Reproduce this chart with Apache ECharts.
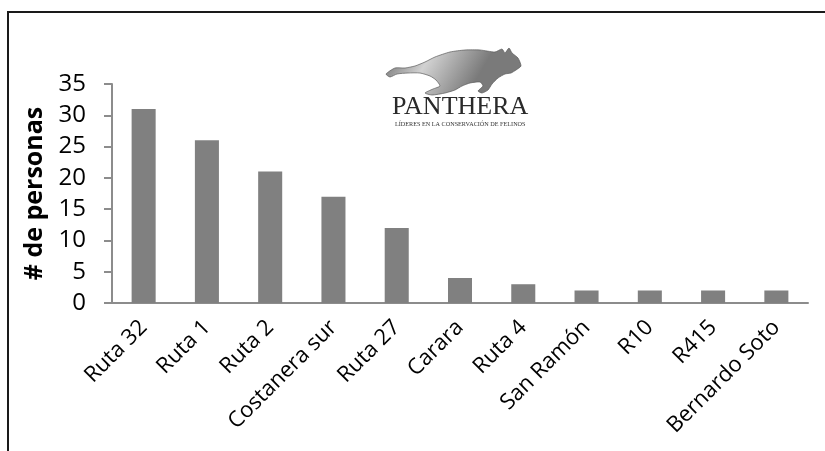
<!DOCTYPE html>
<html>
<head>
<meta charset="utf-8">
<script src="https://cdn.jsdelivr.net/npm/echarts@6/dist/echarts.min.js"></script>
<style>
  html, body { margin: 0; padding: 0; background: #fff; }
  #chart { width: 825px; height: 451px; }
</style>
</head>
<body>
<div id="chart"></div>
<script>
// Roads where sightings were reported and number of people per road
const categories = ['Ruta 32', 'Ruta 1', 'Ruta 2', 'Costanera sur', 'Ruta 27', 'Carara', 'Ruta 4', 'San Ramón', 'R10', 'R415', 'Bernardo Soto'];
const personas = [31, 26, 21, 17, 12, 4, 3, 2, 2, 2, 2];
const yTicks = { min: 0, max: 35, interval: 5 };
const yTitle = '# de personas';

const chart = echarts.init(document.getElementById('chart'), null, { renderer: 'canvas' });

const labelFont = 'Open Sans, "Liberation Sans", sans-serif';

// outline of the running cat in the logo
const catOutline = [
  [386, 74], [395, 68], [405, 68], [415, 66], [425, 62], [435, 57], [450, 52], [465, 50],
  [480, 50], [495, 52], [502, 49], [505, 53], [509, 48], [512, 53], [518, 58], [521, 66],
  [516, 70], [511, 73], [505, 74], [498, 78], [492, 84], [488, 90], [482, 93], [478, 91],
  [483, 86], [480, 82], [470, 83], [462, 86], [455, 90], [445, 93], [432, 95], [425, 93],
  [433, 89], [440, 86], [436, 80], [430, 76], [420, 73], [408, 73], [397, 74], [390, 77]
];

chart.setOption({
  animation: false,
  backgroundColor: '#ffffff',
  grid: { left: 112, right: 17, top: 84, bottom: 148, containLabel: false },
  xAxis: {
    type: 'category',
    data: categories,
    boundaryGap: true,
    axisLine: { show: true, lineStyle: { color: '#8c8c8c', width: 2 } },
    axisTick: { show: false },
    axisLabel: {
      interval: 0,
      rotate: 45,
      margin: 21,
      color: '#000',
      fontSize: 22,
      fontFamily: labelFont
    }
  },
  yAxis: {
    type: 'value',
    min: yTicks.min,
    max: yTicks.max,
    interval: yTicks.interval,
    name: yTitle,
    nameLocation: 'middle',
    nameGap: 64,
    nameRotate: 90,
    nameTextStyle: { color: '#000', fontSize: 25, fontWeight: 'bold', fontFamily: labelFont },
    splitLine: { show: false },
    axisLine: { show: true, lineStyle: { color: '#8c8c8c', width: 2 } },
    axisTick: { show: true, inside: false, length: 8, lineStyle: { color: '#8c8c8c', width: 2 } },
    axisLabel: { color: '#000', fontSize: 24, margin: 26, fontFamily: labelFont }
  },
  series: [{
    type: 'bar',
    data: personas,
    barWidth: '38%',
    itemStyle: { color: '#808080' }
  }],
  graphic: [
    // outer frame (top and left edges)
    { type: 'polyline', shape: { points: [[8, 451], [8, 12], [825, 12]] },
      style: { stroke: '#1a1a1a', lineWidth: 2, fill: null }, z: 10 },
    // logo: leaping cat
    { type: 'polygon', z: 5,
      shape: { points: catOutline, smooth: 0.2 },
      style: {
        fill: {
          type: 'linear', x: 0, y: 0, x2: 0.6, y2: 1,
          colorStops: [
            { offset: 0, color: '#6a6a6a' },
            { offset: 0.45, color: '#d2d2d2' },
            { offset: 1, color: '#7a7a7a' }
          ]
        },
        stroke: '#5a5a5a', lineWidth: 0.7
      }
    },
    { type: 'text', z: 5, left: 392, top: 94,
      style: { text: 'PANTHERA', fill: '#2a2a2a', fontSize: 26, fontFamily: '"Liberation Serif", "DejaVu Serif", serif' } },
    { type: 'text', z: 5, left: 395, top: 121,
      style: { text: 'LÍDERES EN LA CONSERVACIÓN DE FELINOS', fill: '#333', fontSize: 6.2, fontFamily: '"Liberation Serif", serif' } }
  ]
});
</script>
</body>
</html>
